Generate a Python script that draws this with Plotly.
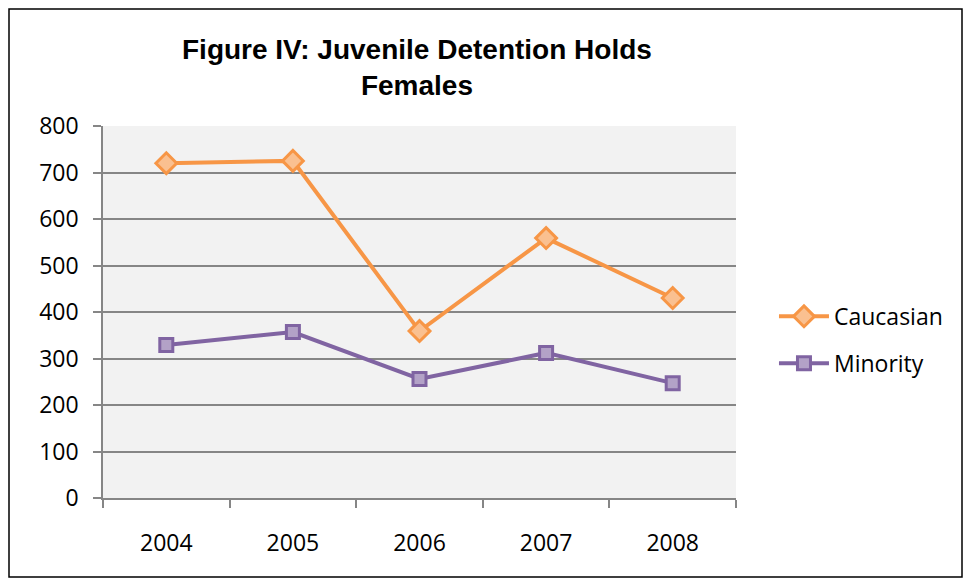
import plotly.graph_objects as go

years = ["2004", "2005", "2006", "2007", "2008"]
caucasian = [720, 725, 359, 559, 430]
minority = [329, 357, 256, 312, 247]
y_ticks = [0, 100, 200, 300, 400, 500, 600, 700, 800]

fig = go.Figure()
fig.add_trace(go.Scatter(
    x=years, y=caucasian, name="Caucasian", mode="lines+markers",
    legendgroup="a",
    line=dict(color="#f79646", width=4),
    marker=dict(symbol="diamond", size=16, color="#fac090",
                line=dict(color="#f79646", width=3)),
))
fig.add_trace(go.Scatter(
    x=years, y=minority, name="Minority", mode="lines+markers",
    legendgroup="b",
    line=dict(color="#8064a2", width=4),
    marker=dict(symbol="square", size=13, color="#b3a2c7",
                line=dict(color="#8064a2", width=3)),
))

fig.update_layout(
    width=955, height=570,
    margin=dict(l=95, r=227, t=118, b=80),
    paper_bgcolor="white",
    plot_bgcolor="#f2f2f2",
    font=dict(family="Open Sans, Lato, sans-serif", size=23, color="black"),
    showlegend=True,
    legend=dict(x=1.06, y=0.425, xanchor="left", yanchor="middle",
                font=dict(size=23), tracegroupgap=14, itemwidth=50,
                bgcolor="rgba(0,0,0,0)"),
    xaxis=dict(type="category", range=[-0.5, 4.5], tickson="boundaries", ticks="outside",
               ticklen=8, tickcolor="#868686", tickwidth=1.5,
               showline=True, linecolor="#868686", linewidth=1.5,
               showgrid=False, tickfont=dict(size=23), ticklabelstandoff=24),
    yaxis=dict(range=[0, 800], tickvals=y_ticks, ticks="outside",
               ticklen=8, tickcolor="#868686", tickwidth=1.5,
               showline=True, linecolor="#868686", linewidth=1.5,
               showgrid=True, gridcolor="#868686", gridwidth=1.5,
               zeroline=False, tickfont=dict(size=23), ticklabelstandoff=10),
    annotations=[dict(
        text="<b>Figure IV: Juvenile Detention Holds<br>Females</b>",
        x=0.496, y=1.158, xref="paper", yref="paper",
        xanchor="center", yanchor="middle", showarrow=False,
        font=dict(family="Liberation Sans, Arial, sans-serif", size=28, color="black"),
    )],
    shapes=[dict(type="rect", xref="paper", yref="paper",
                 x0=(9 - 103) / 633, x1=(962 - 103) / 633,
                 y0=(498 - 577) / 372, y1=(498 - 9) / 372,
                 line=dict(color="black", width=1.5), fillcolor="rgba(0,0,0,0)")],
)

fig.write_html("out.html")
